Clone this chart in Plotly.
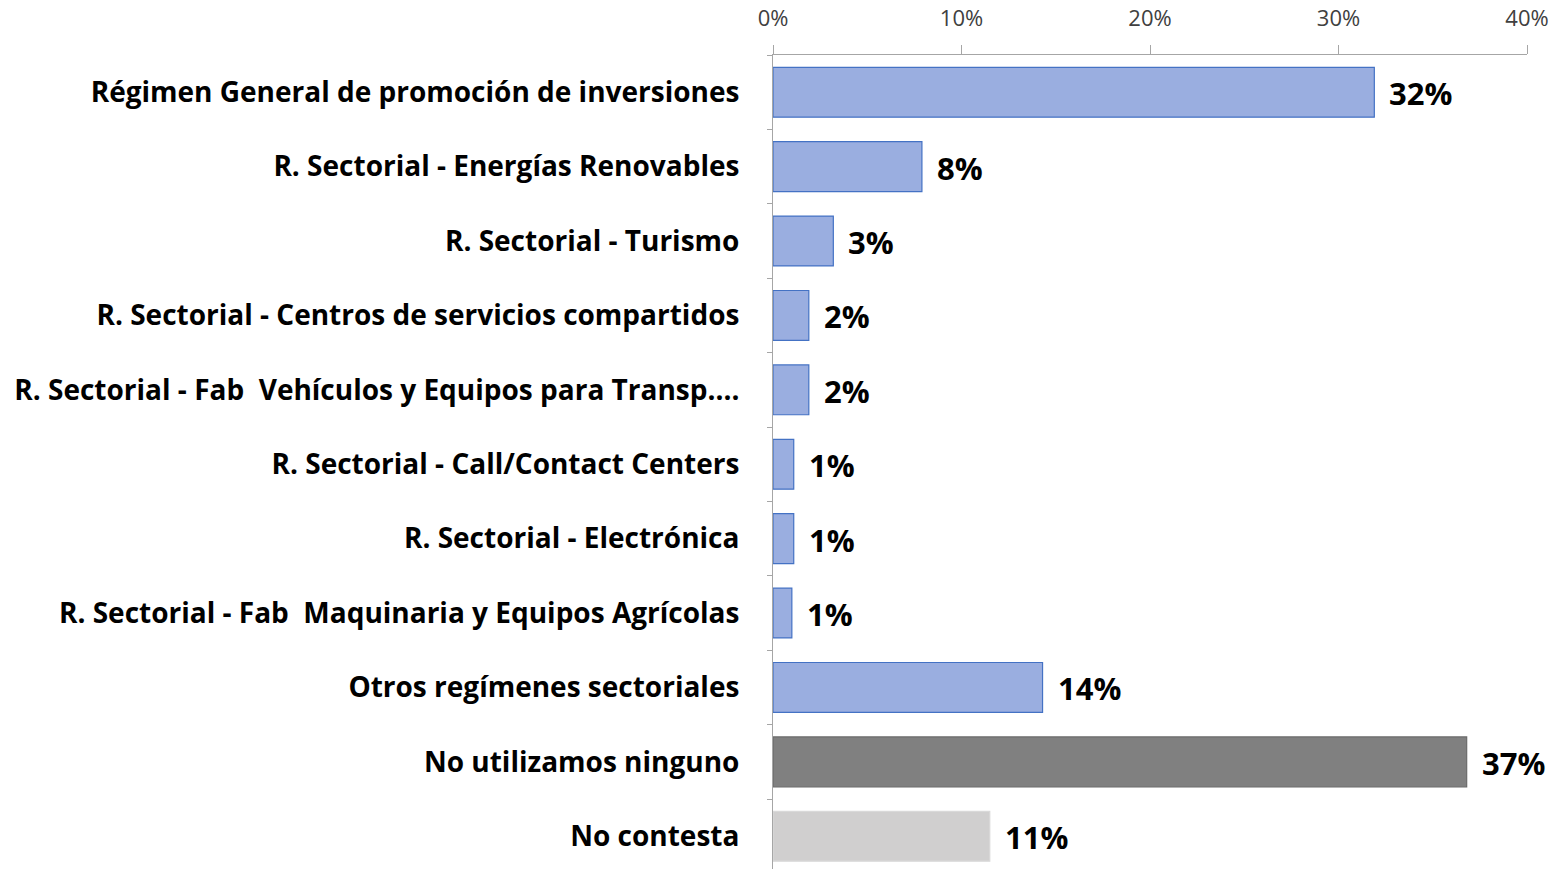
import plotly.graph_objects as go

categorias = [
    'Régimen General de promoción de inversiones',
    'R. Sectorial - Energías Renovables',
    'R. Sectorial - Turismo',
    'R. Sectorial - Centros de servicios compartidos',
    'R. Sectorial - Fab  Vehículos y Equipos para Transp....',
    'R. Sectorial - Call/Contact Centers',
    'R. Sectorial - Electrónica',
    'R. Sectorial - Fab  Maquinaria y Equipos Agrícolas',
    'Otros regímenes sectoriales',
    'No utilizamos ninguno',
    'No contesta',
]
valores = [31.9, 7.9, 3.2, 1.9, 1.9, 1.1, 1.1, 1.0, 14.3, 36.8, 11.5]
etiquetas = ['32%', '8%', '3%', '2%', '2%', '1%', '1%', '1%', '14%', '37%', '11%']
tick_vals = [0, 10, 20, 30, 40]
tick_text = ['0%', '10%', '20%', '30%', '40%']

azul, gris, gris_claro = '#9aaee0', '#808080', '#d0cfcf'
colores = [azul] * 9 + [gris, gris_claro]
bordes = ['#4472c4'] * 9 + ['#6a6a6a', '#d9d9d9']

fig = go.Figure()
fig.add_trace(go.Bar(
    x=valores,
    y=categorias,
    orientation='h',
    width=0.67,
    marker=dict(color=colores, line=dict(color=bordes, width=1.2)),
    hoverinfo='skip',
))

for cat, v, lab in zip(categorias, valores, etiquetas):
    fig.add_annotation(
        x=v, y=cat, text=lab, showarrow=False,
        xanchor='left', xshift=13, yshift=-1,
        font=dict(family='Open Sans', size=31, color='black', weight='bold'),
    )

fig.update_xaxes(
    side='top', range=[0, 40], tickvals=tick_vals, ticktext=tick_text,
    showgrid=False, zeroline=False, automargin=False,
    showline=True, linecolor='#a6a6a6', linewidth=1,
    ticks='outside', ticklen=9, tickcolor='#a6a6a6',
    ticklabelstandoff=10,
    tickfont=dict(family='Open Sans', size=22, color='#404040'),
)
fig.update_yaxes(
    type='category', range=[10.44, -0.5],
    showgrid=False, zeroline=False, automargin=False,
    showline=True, linecolor='#a6a6a6', linewidth=1,
    ticks='outside', ticklen=5, tickcolor='#a6a6a6', tickson='boundaries',
    ticklabelstandoff=27,
    tickfont=dict(family='Open Sans', size=28, color='black', weight='bold'),
)

fig.update_layout(
    width=1564, height=869,
    margin=dict(l=773, r=37, t=55, b=0),
    plot_bgcolor='white', paper_bgcolor='white',
    showlegend=False,
)

# quitar el margen por defecto del <body> para que la figura llene la ventana
fig.write_html('out.html', config={'displayModeBar': False},
               post_script="document.body.style.margin='0';")
